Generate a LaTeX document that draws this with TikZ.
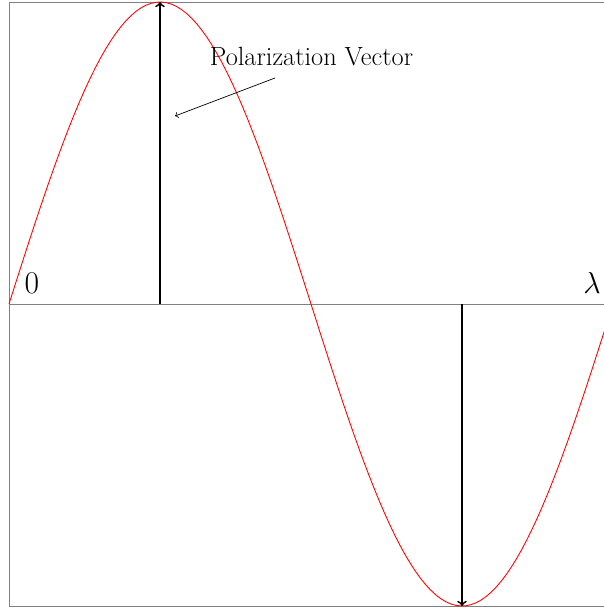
\documentclass[tikz,border=0pt]{standalone}
\usetikzlibrary{arrows}
\begin{document}
\begin{tikzpicture}[>=to,
          frame/.style={draw=gray, line width=0.5pt},
          wave/.style={red, line width=0.5pt},
          vec/.style={->, line width=1pt},
          lbl/.style={font=\fontsize{18}{20}\selectfont, inner sep=0pt}]
        \useasboundingbox (-0.18,-6.12) rectangle (11.9,6.08);
        \draw[frame] (0,-6.04) rectangle (12.08,6.04);
        \draw[frame] (0,0) -- (12.08,0);
        \draw[wave, domain=0:360, samples=120] plot ({\x/360*12.08}, {6.04*sin(\x)});
        % vectors at peak and trough
        \coordinate (base1) at (3.02,0);
        \coordinate (peak) at (3.02,6.04);
        \coordinate (base2) at (9.06,0);
        \coordinate (trough) at (9.06,-6.04);
        \draw[vec] (base1) -- (peak);
        \draw[vec] (base2) -- (trough);
        \node[lbl] (zero) at (0.46,0.42) {0};
        \node[lbl] (lam) at (11.66,0.42) {$\lambda$};
        \node[font=\fontsize{15}{18}\selectfont, inner sep=0pt] (pv) at (6.05,4.94) {Polarization Vector};
        \coordinate (tail) at (5.32,4.52);
        \coordinate (head) at (3.32,3.76);
        \draw[->] (tail) -- (head);
\end{tikzpicture}
\end{document}
